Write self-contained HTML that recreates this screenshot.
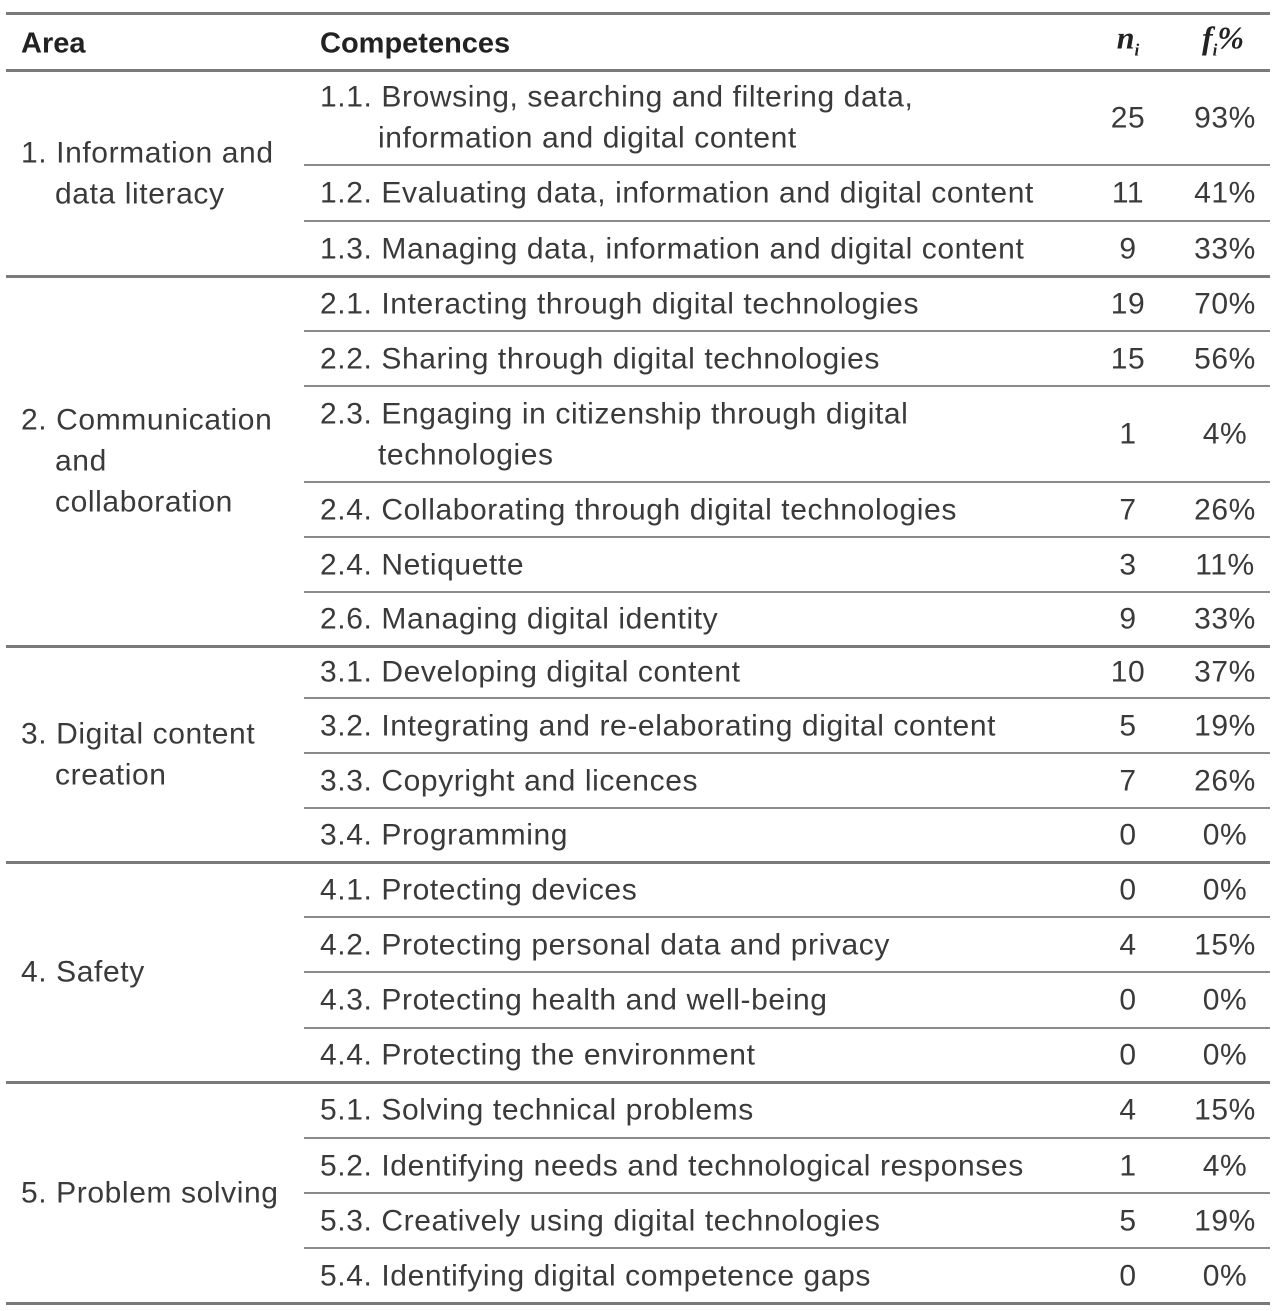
<!DOCTYPE html>
<html><head><meta charset="utf-8"><style>
body{margin:0;background:#fff;width:1280px;height:1311px;position:relative;overflow:hidden;font-family:"Liberation Sans",sans-serif;color:#3a3a3a}
.l{position:absolute;height:3px;background:#7a7a7a}
.m{position:absolute;height:2px;background:#8a8a8a;left:304px;width:966px}
.t{position:absolute;font-size:30px;letter-spacing:0.6px;white-space:nowrap;line-height:41px;transform:translateY(-50%)}
.c{text-align:center;width:80px}
.h{font-weight:bold;color:#222;letter-spacing:0}
</style></head><body>
<div class="l" style="left:6px;width:1264px;top:12px"></div>
<div class="l" style="left:6px;width:1264px;top:69px"></div>
<div class="t h" style="left:21px;top:44px;font-size:29px">Area</div>
<div class="t h" style="left:320px;top:44px;font-size:29px">Competences</div>
<div class="t h c" style="left:1088px;top:44px;font-family:'Liberation Serif',serif;font-style:italic;font-size:32px">n<sub style="font-size:17px">i</sub></div>
<div class="t h c" style="left:1183px;top:44px;font-family:'Liberation Serif',serif;font-style:italic;font-size:32px">f<sub style="font-size:17px">i</sub>%</div>
<script>
const comps=[["1.1. Browsing, searching and filtering data,","information and digital content"],["1.2. Evaluating data, information and digital content"],["1.3. Managing data, information and digital content"],["2.1. Interacting through digital technologies"],["2.2. Sharing through digital technologies"],["2.3. Engaging in citizenship through digital","technologies"],["2.4. Collaborating through digital technologies"],["2.4. Netiquette"],["2.6. Managing digital identity"],["3.1. Developing digital content"],["3.2. Integrating and re-elaborating digital content"],["3.3. Copyright and licences"],["3.4. Programming"],["4.1. Protecting devices"],["4.2. Protecting personal data and privacy"],["4.3. Protecting health and well-being"],["4.4. Protecting the environment"],["5.1. Solving technical problems"],["5.2. Identifying needs and technological responses"],["5.3. Creatively using digital technologies"],["5.4. Identifying digital competence gaps"]];
const nvals=[25,11,9,19,15,1,7,3,9,10,5,7,0,0,4,0,0,4,1,5,0];
const fvals=["93%","41%","33%","70%","56%","4%","26%","11%","33%","37%","19%","26%","0%","0%","15%","0%","0%","15%","4%","19%","0%"];
const bounds=[70,165,221,276,331,386,482,537,592,646,698,753,808,862,917,972,1028,1082,1138,1193,1248,1303];
const major=[3,9,13,17,21];
const areas=[["1. Information and","data literacy"],["2. Communication","and","collaboration"],["3. Digital content","creation"],["4. Safety"],["5. Problem solving"]];
const areaStart=[0,3,9,13,17];
function add(cls,style,html,name){const d=document.createElement('div');d.className=cls;d.style.cssText=style;d.innerHTML=html;


document.body.appendChild(d);}
for(let i=0;i<comps.length;i++){
 const top=bounds[i],bot=bounds[i+1],mid=(top+bot)/2;
 const lines=comps[i];
 const lh=41,y0=mid-(lines.length-1)*lh/2;
 lines.forEach((s,j)=>add('t','left:'+(j?378:320)+'px;top:'+(y0+j*lh)+'px',s,'competence-'+i+'-line-'+j));
 add('t c','left:1088px;top:'+mid+'px',nvals[i],'n-value-'+i);
 add('t c','left:1185px;top:'+mid+'px',fvals[i],'f-value-'+i);
 if(i<comps.length-1){
  if(major.includes(i+1)) add('l','left:6px;width:1264px;top:'+(bot-1)+'px','','area-rule-'+i);
  else add('m','top:'+(bot-1)+'px','','row-rule-'+i);
 }
}
add('l','left:6px;width:1264px;top:1302px','','bottom-rule');
areas.forEach((a,k)=>{
 const s=areaStart[k],e=k<4?areaStart[k+1]:comps.length;
 const mid=(bounds[s]+bounds[e])/2,lh=41,y0=mid-(a.length-1)*lh/2;
 a.forEach((t,j)=>add('t','left:'+(j?55:21)+'px;top:'+(y0+j*lh)+'px',t,'area-'+(k+1)+'-line-'+j));
});
</script>
</body></html>
